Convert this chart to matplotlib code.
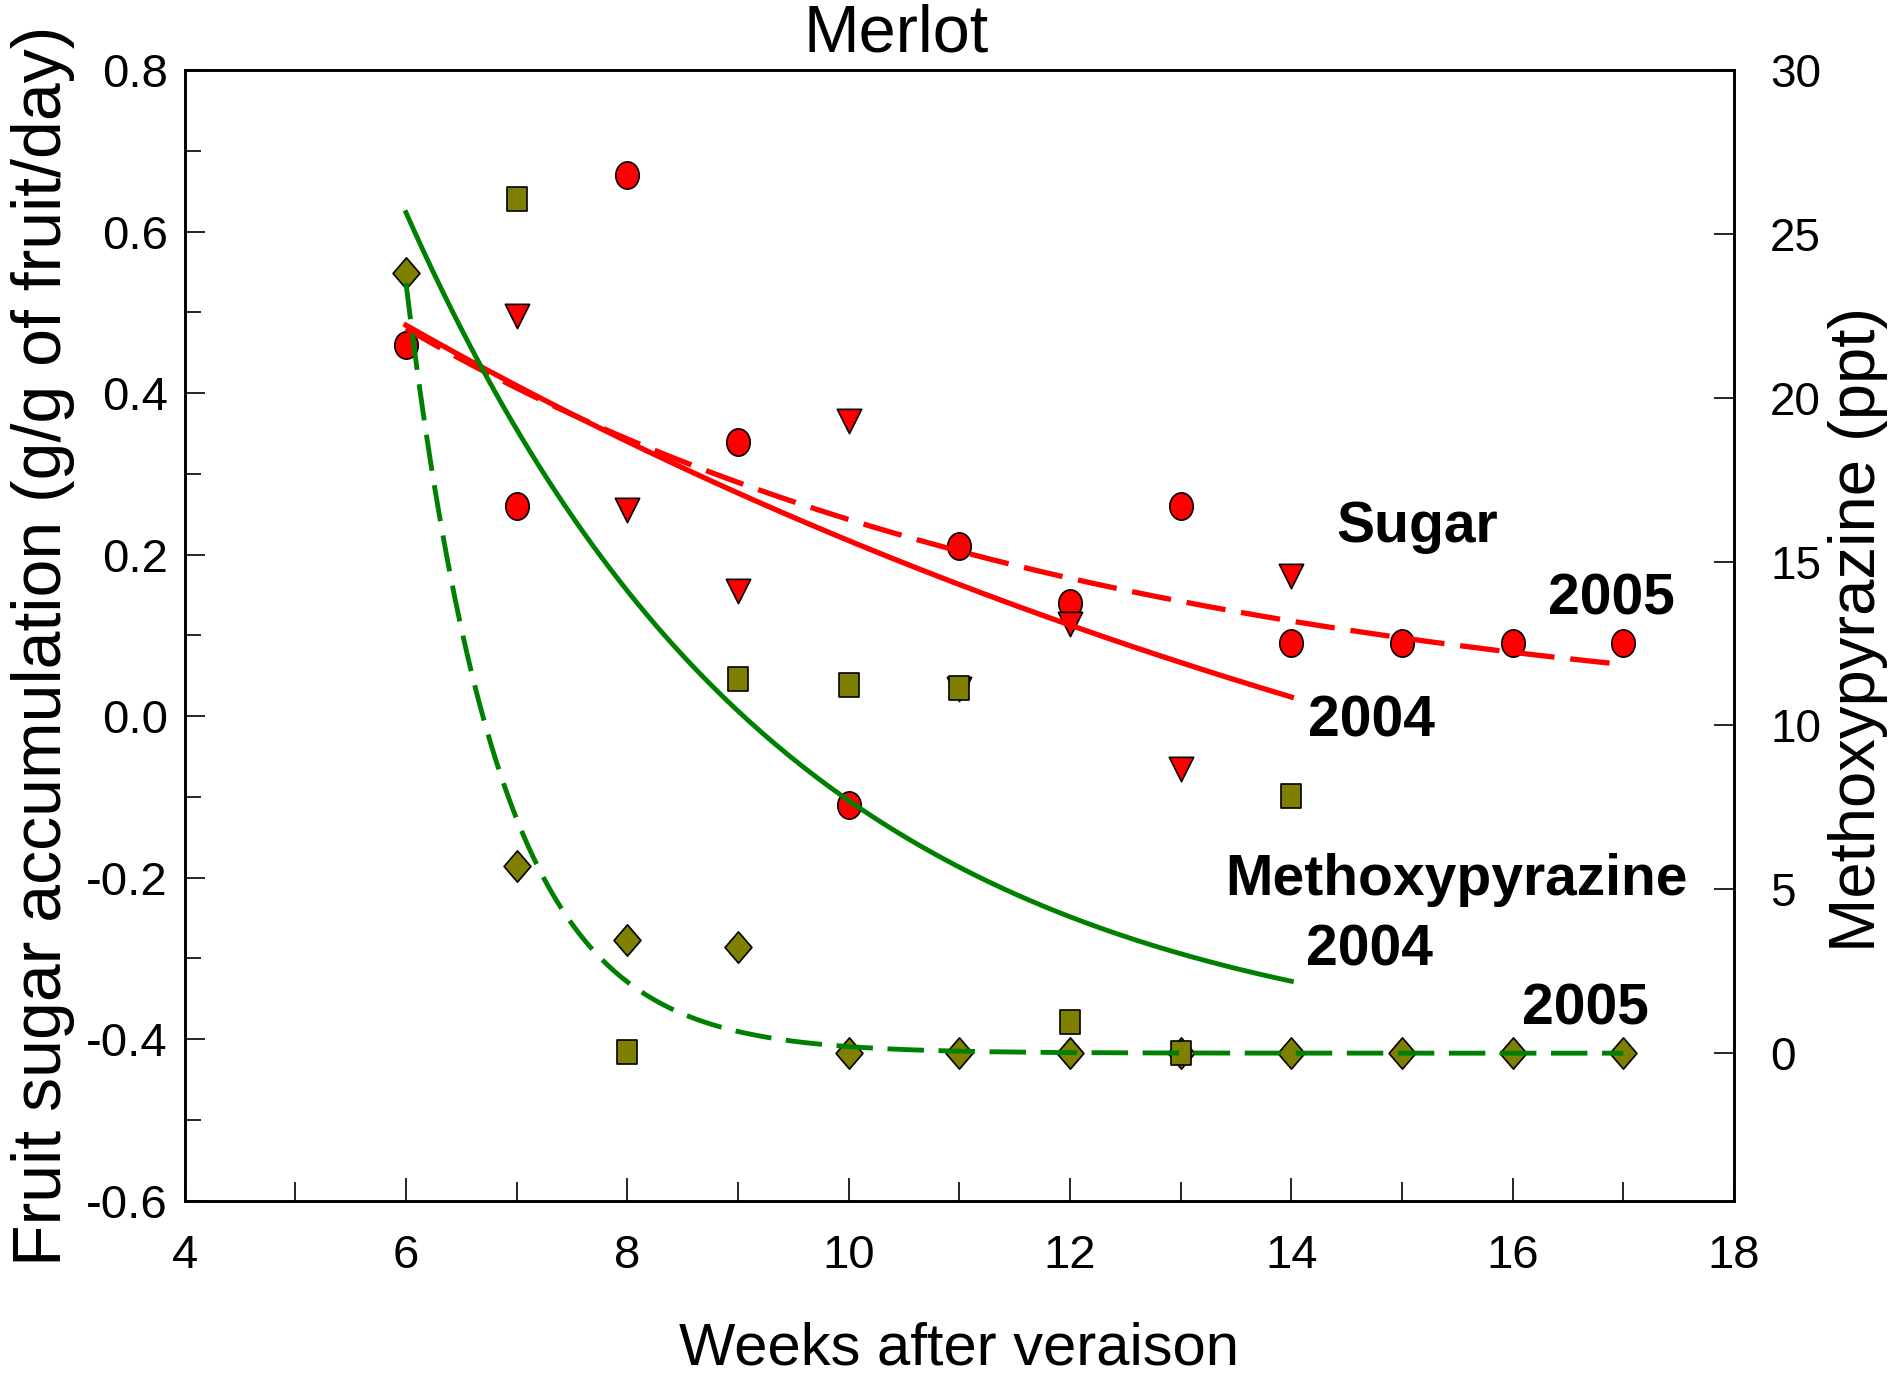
import numpy as np
import matplotlib
matplotlib.use("Agg")
import matplotlib.pyplot as plt
from matplotlib import font_manager as fm
from matplotlib.path import Path
from matplotlib.ticker import MultipleLocator, FormatStrFormatter


def pick_font(name, fallback):
    try:
        fm.findfont(fm.FontProperties(family=name), fallback_to_default=False)
        return name
    except ValueError:
        return fallback


FONT = pick_font("Liberation Sans", "DejaVu Sans")
plt.rcParams["axes.unicode_minus"] = False

# --- data ---
weeks_2005 = [6, 7, 8, 9, 10, 11, 12, 13, 14, 15, 16, 17]
weeks_2004 = [7, 8, 9, 10, 11, 12, 13, 14]

# fruit sugar accumulation (g/g of fruit/day), left axis
sugar_2005 = [0.46, 0.26, 0.67, 0.34, -0.11, 0.21, 0.14, 0.26, 0.09, 0.09, 0.09, 0.09]
sugar_2004 = [0.495, 0.255, 0.155, 0.365, 0.034, 0.114, -0.065, 0.174]

# methoxypyrazine (ppt), right axis
mp_2005 = [23.8, 5.7, 3.45, 3.25, 0, 0, 0, 0, 0, 0, 0, 0]
mp_2004 = [26.05, 0.05, 11.42, 11.23, 11.13, 0.96, 0.0, 7.84]

# exponential decay fits y = c + a*exp(-b*(week-6)), (a, b, c)
sugar_2004_fit = (0.974, 0.080, -0.490)
sugar_2005_fit = (0.505, 0.158, -0.025)
mp_2004_fit = (25.9, 0.295, -0.25)
mp_2005_fit = (23.5, 1.19, 0.0)
fit_start = 6
fit_end_2004 = 14
fit_end_2005 = 17


def decay(params, x):
    a, b, c = params
    return c + a * np.exp(-b * (x - fit_start))


def marker_path(pts):
    return Path(pts + [pts[0]], closed=True)


# markers in the original are slightly taller than wide
t = np.linspace(0, 2 * np.pi, 60)
ellipse = Path(np.column_stack([0.86 * np.cos(t), np.sin(t)]), closed=True)
tri_down = marker_path([(-1.0, 1.0), (1.0, 1.0), (0.0, -1.0)])
rect = marker_path([(-0.86, -1.0), (0.86, -1.0), (0.86, 1.0), (-0.86, 1.0)])
diamond = marker_path([(0.0, 1.0), (0.86, 0.0), (0.0, -1.0), (-0.86, 0.0)])

RED = "#FF0000"
GREEN = "#008000"
OLIVE = "#808000"

fig = plt.figure(figsize=(18.92, 13.78), dpi=100)
ax = fig.add_axes([0.0976, 0.1287, 0.8189, 0.8205])
ax2 = ax.twinx()

mk = dict(linestyle="none", markeredgecolor="black", markeredgewidth=1.2)
ax.plot(weeks_2005, sugar_2005, marker=ellipse, markersize=19.6, color=RED, zorder=2, **mk)
ax.plot(weeks_2004, sugar_2004, marker=tri_down, markersize=17.5, color=RED, zorder=2.1, **mk)
ax2.plot(weeks_2005, mp_2005, marker=diamond, markersize=22.5, color=OLIVE, zorder=2, **mk)
ax2.plot(weeks_2004, mp_2004, marker=rect, markersize=17.5, color=OLIVE, zorder=2.1, **mk)

x04 = np.linspace(fit_start, fit_end_2004, 200)
x05 = np.linspace(fit_start, fit_end_2005, 300)
dash = (7.5, 3.0)
ax.plot(x04, decay(sugar_2004_fit, x04), color=RED, lw=3.8, zorder=3)
ax.plot(x05, decay(sugar_2005_fit, x05), color=RED, lw=3.8, dashes=dash, zorder=3)
ax2.plot(x04, decay(mp_2004_fit, x04), color=GREEN, lw=3.5, zorder=3)
ax2.plot(x05, decay(mp_2005_fit, x05), color=GREEN, lw=3.5, dashes=dash, zorder=3)

# axes limits and ticks
ax.set_xlim(4, 18)
ax.set_ylim(-0.6, 0.8)
ax2.set_ylim(-4.5, 30)
ax.xaxis.set_major_locator(MultipleLocator(2))
ax.xaxis.set_minor_locator(MultipleLocator(1))
ax.yaxis.set_major_locator(MultipleLocator(0.2))
ax.yaxis.set_minor_locator(MultipleLocator(0.1))
ax.yaxis.set_major_formatter(FormatStrFormatter("%.1f"))
ax2.yaxis.set_major_locator(MultipleLocator(5))

for s in list(ax.spines.values()) + list(ax2.spines.values()):
    s.set_linewidth(1.9)

ax.tick_params(axis="x", which="major", direction="in", length=16.5, width=1.2, pad=24)
ax.tick_params(axis="x", which="minor", direction="in", length=13.5, width=1.2)
ax.tick_params(axis="y", which="major", direction="in", length=14.5, width=1.2, pad=12)
ax.tick_params(axis="y", which="minor", direction="in", length=11.5, width=1.2)
ax.tick_params(which="both", top=False, right=False)
ax2.tick_params(axis="y", which="major", direction="in", length=14.5, width=1.2, pad=26)

for lab in ax.get_xticklabels() + ax.get_yticklabels():
    lab.set_fontfamily(FONT)
    lab.set_fontsize(34)
for lab in ax2.get_yticklabels():
    lab.set_fontfamily(FONT)
    lab.set_fontsize(33)

ax.set_xlabel("Weeks after veraison", fontfamily=FONT, fontsize=43)
ax.xaxis.set_label_coords(0.5, -0.107)
ax.set_ylabel("Fruit sugar accumulation (g/g of fruit/day)", fontfamily=FONT, fontsize=49)
ax.yaxis.set_label_coords(-0.071, 0.491)
ax2.set_ylabel("Methoxypyrazine (ppt)", fontfamily=FONT, fontsize=47)
ax2.yaxis.set_label_coords(1.0607, 0.505)

fig.text(0.4736, 0.9625, "Merlot", fontfamily=FONT, fontsize=48, ha="center", va="baseline")

ann = dict(fontfamily=FONT, fontweight="bold", fontsize=41, ha="left", va="baseline", zorder=5)
ax.text(14.41, 0.216, "Sugar", **ann)
ax.text(16.32, 0.126, "2005", **ann)
ax.text(14.15, -0.025, "2004", **ann)
ax.text(13.40, -0.222, "Methoxypyrazine", **ann)
ax.text(14.13, -0.309, "2004", **ann)
ax.text(16.08, -0.382, "2005", **ann)

fig.savefig("out.png", dpi=100)
